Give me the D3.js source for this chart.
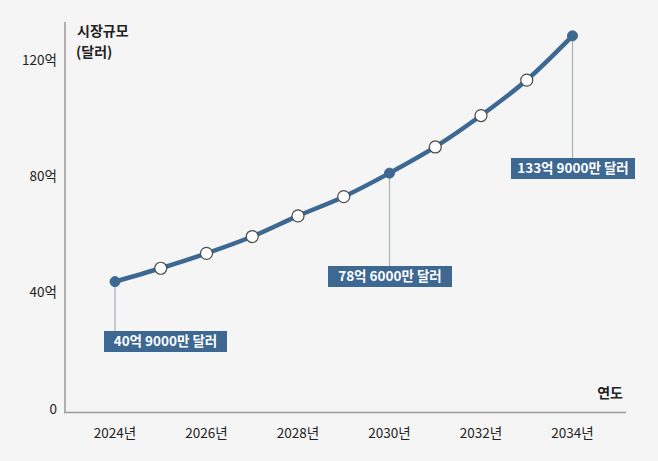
<!DOCTYPE html>
<html><head><meta charset="utf-8">
<script src="https://cdn.jsdelivr.net/npm/d3@7"></script>
<style>
html,body{margin:0;padding:0;background:#f5f5f5;}
svg{display:block;font-family:"Noto Sans CJK KR","Noto Sans",sans-serif;}
</style></head><body>
<svg id="c" width="658" height="461"></svg>
<script>
const years = [2024,2025,2026,2027,2028,2029,2030,2031,2032,2033,2034];
const values = [43.8,48.4,53.5,59.3,66.4,73.0,81.1,90.1,100.9,113.1,128.3];
const highlighted = [2024,2030,2034];
const annotations = ["40억 9000만 달러","78억 6000만 달러","133억 9000만 달러"];
const yTicks = [0,40,80,120];
const yTickLabels = ["0","40억","80억","120억"];
const xTicks = [2024,2026,2028,2030,2032,2034];

const svg = d3.select("#c");
const x = d3.scaleLinear().domain([2024,2034]).range([115,572.5]);
const y = d3.scaleLinear().domain([0,120]).range([409,60]);
const col = "#3d6892";

// axes lines
svg.append("line").attr("x1",65).attr("x2",65).attr("y1",22).attr("y2",412.5).attr("stroke","#9a9a9a").attr("stroke-width",1.5);
svg.append("line").attr("x1",64).attr("x2",626).attr("y1",412.5).attr("y2",412.5).attr("stroke","#9a9a9a").attr("stroke-width",1.5);

// y tick labels
svg.selectAll(".yt").data(yTicks).join("text")
  .attr("x",57).attr("y",d=>y(d)).attr("dy","0.35em").attr("text-anchor","end")
  .attr("font-size",13.5).attr("fill","#222").text((d,i)=>yTickLabels[i]);

// x tick labels
svg.selectAll(".xt").data(xTicks).join("text")
  .attr("x",d=>x(d)).attr("y",433).attr("dy","0.35em").attr("text-anchor","middle")
  .attr("font-size",13.5).attr("fill","#222").text(d=>d+"년");

// axis titles
svg.append("text").attr("x",77).attr("y",31).attr("dy","0.35em").attr("font-size",14).attr("font-weight","bold").attr("fill","#222").text("시장규모");
svg.append("text").attr("x",76).attr("y",52).attr("dy","0.35em").attr("font-size",14).attr("font-weight","bold").attr("fill","#222").text("(달러)");
svg.append("text").attr("x",623).attr("y",393).attr("dy","0.35em").attr("text-anchor","end").attr("font-size",14).attr("font-weight","bold").attr("fill","#222").text("연도");

// annotation leader lines & boxes
const boxY = {2024:[331,352],2030:[266,287],2034:[158,179]};
const boxX = {2024:[104,227],2030:[328,452],2034:[511,635]};
highlighted.forEach((yr,i)=>{
  const v = values[years.indexOf(yr)];
  svg.append("line").attr("x1",x(yr)).attr("x2",x(yr)).attr("y1",y(v)).attr("y2",boxY[yr][0])
    .attr("stroke","#a8b0b8").attr("stroke-width",1.2);
  svg.append("rect").attr("x",boxX[yr][0]).attr("y",boxY[yr][0]).attr("width",boxX[yr][1]-boxX[yr][0]).attr("height",boxY[yr][1]-boxY[yr][0]).attr("fill",col);
  svg.append("text").attr("x",(boxX[yr][0]+boxX[yr][1])/2).attr("y",(boxY[yr][0]+boxY[yr][1])/2).attr("dy","0.35em")
    .attr("text-anchor","middle").attr("font-size",13.5).attr("font-weight","bold").attr("fill","#fff").text(annotations[i]);
});

// line
const data = years.map((yr,i)=>({yr,v:values[i]}));
svg.append("path").datum(data)
  .attr("d",d3.line().x(d=>x(d.yr)).y(d=>y(d.v)).curve(d3.curveMonotoneX))
  .attr("fill","none").attr("stroke",col).attr("stroke-width",4.5);

// markers
svg.selectAll(".pt").data(data).join("circle")
  .attr("cx",d=>x(d.yr)).attr("cy",d=>y(d.v))
  .attr("r",d=>highlighted.includes(d.yr)?5:6)
  .attr("fill",d=>highlighted.includes(d.yr)?col:"#fff")
  .attr("stroke",d=>highlighted.includes(d.yr)?col:"#4a4a4a")
  .attr("stroke-width",d=>highlighted.includes(d.yr)?1:1.2);
</script>
</body></html>
